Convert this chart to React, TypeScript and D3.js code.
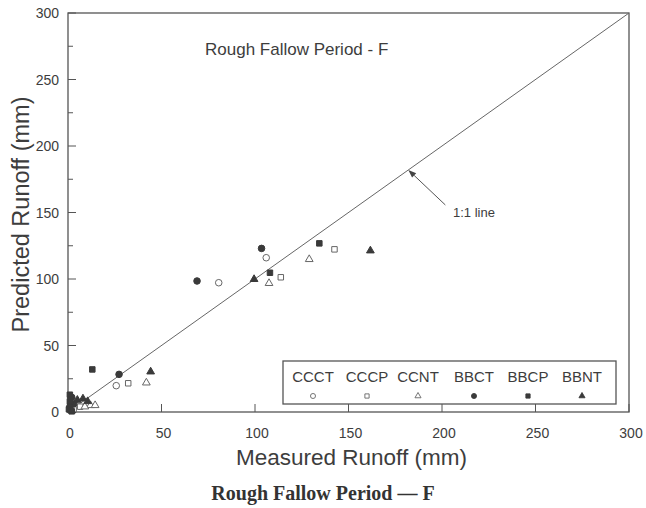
import React from "react";
import * as d3 from "d3";

// ---- data (measured, predicted) ----
const seriesNames = ["CCCT", "CCCP", "CCNT", "BBCT", "BBCP", "BBNT"];
const CCCT: [number, number][] = [[80.6, 97.2], [106, 116], [25.8, 19.8], [4, 5], [1, 1.5]];
const CCCP: [number, number][] = [[113.8, 101.3], [142.5, 122.3], [32.2, 21.6], [6.5, 4], [3, 2]];
const CCNT: [number, number][] = [[107.5, 96.8], [129, 114.8], [41.9, 22], [12, 5], [14.5, 5], [9, 4]];
const BBCT: [number, number][] = [[69, 98.5], [103.5, 123], [27.3, 28.3], [2, 11], [3, 6], [1, 4]];
const BBCP: [number, number][] = [[108, 104.7], [134.4, 126.8], [13, 32], [1, 13], [1, 8], [0.5, 2], [2, 0.5]];
const BBNT: [number, number][] = [[99.5, 99.8], [161.7, 121.3], [44.2, 30.3], [5, 9], [8, 10], [10.5, 8], [2, 1]];
const seriesData = [CCCT, CCCP, CCNT, BBCT, BBCP, BBNT];
const seriesShapes = ["circle", "square", "triangle", "circle", "square", "triangle"];
const seriesFilled = [false, false, false, true, true, true];

const xTicks = [0, 50, 100, 150, 200, 250, 300];
const yTicks = [0, 50, 100, 150, 200, 250, 300];
const yMinorTicks = [25, 75, 125, 175, 225, 275];
const oneToOne = [0, 300];
const arrowValue = 182;

const W = 646, H = 508;
const L = 68, R = 629, T = 13, B = 412;

const x = d3.scaleLinear().domain([0, 300]).range([L, R]);
const y = d3.scaleLinear().domain([0, 300]).range([B, T]);

const ink = "#3a3a3a";
const frame = "#555";
const textCol = "#3d3d3d";
const font = "'Liberation Sans', Arial, Helvetica, sans-serif";

function symbolPath(shape: string, size: number) {
  const t = shape === "circle" ? d3.symbolCircle : shape === "square" ? d3.symbolSquare : d3.symbolTriangle;
  return d3.symbol().type(t).size(size)() as string;
}
const sizes: Record<string, number> = { circle: 34, square: 30, triangle: 26 };
const legendSizes: Record<string, number> = { circle: 20, square: 18, triangle: 16 };

export default function App() {
  const tip = [x(arrowValue), y(arrowValue)];
  const tail = [tip[0] + 37, tip[1] + 35];
  const ang = Math.atan2(tip[1] - tail[1], tip[0] - tail[0]);
  const ah = 8, aw = 3;
  const base = [tip[0] - ah * Math.cos(ang), tip[1] - ah * Math.sin(ang)];
  const head = `M${tip[0]},${tip[1]} L${base[0] + aw * Math.sin(ang)},${base[1] - aw * Math.cos(ang)} L${base[0] - aw * Math.sin(ang)},${base[1] + aw * Math.cos(ang)} Z`;

  const legendX = [313, 367, 418, 474, 528, 582];

  return (
    <svg width={W} height={H} style={{ position: "fixed", left: 0, top: 0, background: "#fff" }} fontFamily={font}>
      <rect x={0} y={0} width={W} height={H} fill="#fff" />
      {/* frame */}
      <rect x={L} y={T} width={R - L} height={B - T} fill="none" stroke={frame} strokeWidth={1.3} />
      {/* y ticks */}
      {yTicks.map((v) => (
        <g key={"yt" + v}>
          <line x1={L} x2={L + 8} y1={y(v)} y2={y(v)} stroke={frame} strokeWidth={1} />
          <text x={59} y={y(v) + 5} textAnchor="end" fontSize={14} fill={textCol}>{v}</text>
        </g>
      ))}
      {yMinorTicks.map((v) => (
        <line key={"ym" + v} x1={L} x2={L + 5} y1={y(v)} y2={y(v)} stroke={frame} strokeWidth={1} />
      ))}
      {/* x ticks */}
      {xTicks.map((v) => (
        <g key={"xt" + v}>
          <line x1={x(v)} x2={x(v)} y1={B} y2={B - 8} stroke={frame} strokeWidth={1} />
          <text x={x(v) + 2} y={438} textAnchor="middle" fontSize={14} fill={textCol}>{v}</text>
        </g>
      ))}
      {/* 1:1 line */}
      <line x1={x(oneToOne[0])} y1={y(oneToOne[0])} x2={x(oneToOne[1])} y2={y(oneToOne[1])} stroke="#666" strokeWidth={1} />
      {/* arrow */}
      <line x1={tail[0]} y1={tail[1]} x2={base[0]} y2={base[1]} stroke="#555" strokeWidth={1} />
      <path d={head} fill="#444" />
      <text x={453} y={217} fontSize={13} fill={textCol}>1:1 line</text>
      {/* title */}
      <text x={205} y={55} fontSize={17} fill={textCol}>Rough Fallow Period - F</text>
      {/* points */}
      {seriesData.map((pts, i) => (
        <g key={seriesNames[i]}>
          {pts.map((p, j) => (
            <path
              key={j}
              d={symbolPath(seriesShapes[i], sizes[seriesShapes[i]])}
              transform={`translate(${x(p[0])},${y(p[1])})`}
              fill={seriesFilled[i] ? ink : "#fff"}
              stroke={seriesFilled[i] ? ink : "#666"}
              strokeWidth={1}
            />
          ))}
        </g>
      ))}
      {/* legend */}
      <rect x={283} y={361} width={333} height={43} fill="#fff" stroke={frame} strokeWidth={1.3} />
      {seriesNames.map((n, i) => (
        <g key={"lg" + n}>
          <text x={legendX[i]} y={382} textAnchor="middle" fontSize={15} fill={textCol}>{n}</text>
          <path
            d={symbolPath(seriesShapes[i], legendSizes[seriesShapes[i]])}
            transform={`translate(${legendX[i]},${396})`}
            fill={seriesFilled[i] ? ink : "#fff"}
            stroke={seriesFilled[i] ? ink : "#666"}
            strokeWidth={0.9}
          />
        </g>
      ))}
      {/* axis titles */}
      <text x={(L + R) / 2 + 3} y={465} textAnchor="middle" fontSize={22.5} fill={textCol}>Measured Runoff (mm)</text>
      <text transform={`translate(29,${(T + B) / 2 + 2}) rotate(-90)`} textAnchor="middle" fontSize={23.5} fill={textCol}>Predicted Runoff (mm)</text>
      {/* caption */}
      <text x={323} y={500} textAnchor="middle" fontSize={20} fontWeight="bold" fontFamily="'Liberation Serif', 'Times New Roman', serif" fill="#333">Rough Fallow Period — F</text>
    </svg>
  );
}
